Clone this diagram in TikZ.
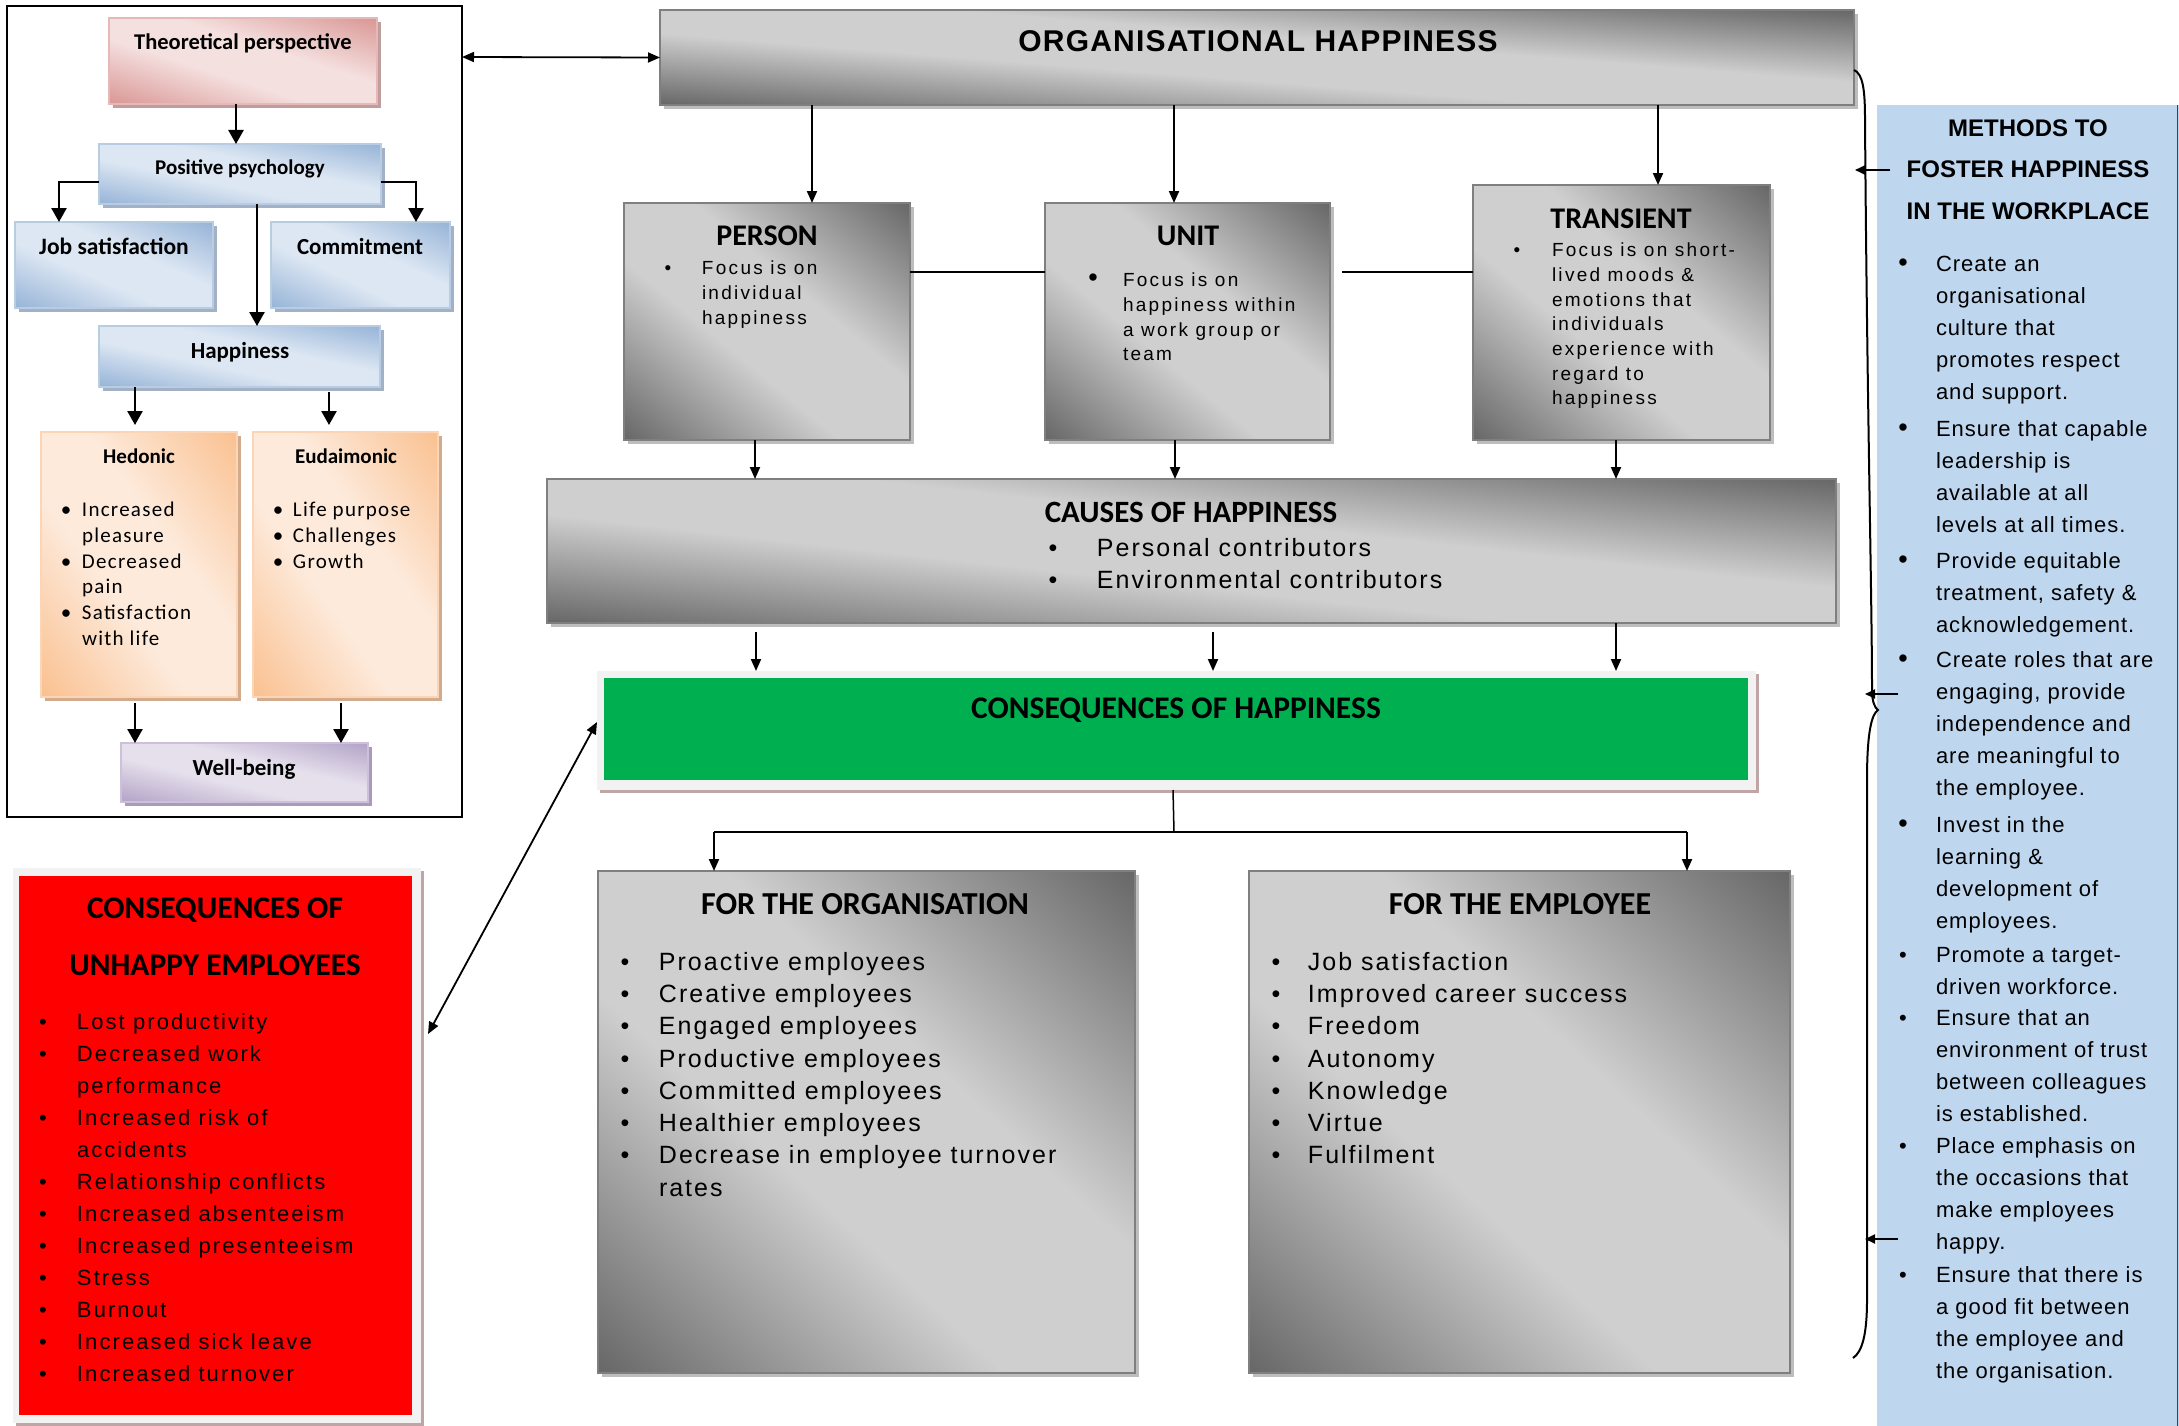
\documentclass[tikz,border=0pt]{standalone}
\usepackage{fontspec}
\setmainfont{Liberation Sans}
\newfontfamily\carl{Carlito}
\newfontfamily\carlsp[LetterSpace=6]{Carlito}
\newfontfamily\arsp[LetterSpace=8]{Liberation Sans}
\newfontfamily\arred[LetterSpace=9.5]{Liberation Sans}
\newfontfamily\arblue[LetterSpace=4.5]{Liberation Sans}
\newfontfamily\arwide[LetterSpace=12]{Liberation Sans}
\newfontfamily\artitle[LetterSpace=4]{Liberation Sans}
\usetikzlibrary{arrows.meta,shadows,calc}

% colours
\definecolor{gD}{HTML}{666666}
\definecolor{gL}{HTML}{CFCFCF}
\definecolor{gB}{HTML}{7F7F7F}
\definecolor{gS}{HTML}{BDBDBD}
\definecolor{pD}{HTML}{D99694}
\definecolor{pL}{HTML}{F4E0DF}
\definecolor{pB}{HTML}{E6B9B8}
\definecolor{pS}{HTML}{BF9D9C}
\definecolor{bD}{HTML}{95B3D7}
\definecolor{bL}{HTML}{DDE7F3}
\definecolor{bB}{HTML}{B8CCE4}
\definecolor{bS}{HTML}{A3B1C6}
\definecolor{oD}{HTML}{FAC08F}
\definecolor{oL}{HTML}{FDEADB}
\definecolor{oB}{HTML}{FBD5B5}
\definecolor{oS}{HTML}{D2AA8C}
\definecolor{vD}{HTML}{B2A2C7}
\definecolor{vL}{HTML}{E6E0EC}
\definecolor{vB}{HTML}{CCC0DA}
\definecolor{vS}{HTML}{A99CBB}
\definecolor{frameF}{HTML}{F2F2F2}
\definecolor{frameS}{HTML}{BFA5A5}
\definecolor{happyGreen}{HTML}{00B050}
\definecolor{panelBlue}{HTML}{BED6EE}

% bands: dark at both ends, light in the middle
\pgfdeclareverticalshading{greyband}{100bp}{color(0bp)=(gD); color(25bp)=(gD); color(44bp)=(gL); color(56bp)=(gL); color(75bp)=(gD); color(100bp)=(gD)}
\pgfdeclareverticalshading{pinkband}{100bp}{color(0bp)=(pD); color(25bp)=(pD); color(44bp)=(pL); color(56bp)=(pL); color(75bp)=(pD); color(100bp)=(pD)}
\pgfdeclareverticalshading{blueband}{100bp}{color(0bp)=(bD); color(25bp)=(bD); color(44bp)=(bL); color(56bp)=(bL); color(75bp)=(bD); color(100bp)=(bD)}
\pgfdeclareverticalshading{orangeband}{100bp}{color(0bp)=(oD); color(25bp)=(oD); color(44bp)=(oL); color(56bp)=(oL); color(75bp)=(oD); color(100bp)=(oD)}
\pgfdeclareverticalshading{violetband}{100bp}{color(0bp)=(vD); color(25bp)=(vD); color(44bp)=(vL); color(56bp)=(vL); color(75bp)=(vD); color(100bp)=(vD)}

% hanging bullet: optional glyph, gap to the text in pt
\newcommand\itm[2][\textbullet]{\llap{\makebox[10pt][c]{#1}\hspace{#2pt}}}
\newcommand\bigbul{{\fontsize{27}{27}\selectfont\textbullet}}

\tikzset{
  box/.style={inner sep=0pt, outer sep=0pt, anchor=north west},
  framebox/.style={box, fill=frameF,
    drop shadow={shadow xshift=3pt, shadow yshift=-3pt, fill=frameS, opacity=1}},
  txt/.style={inner sep=0pt, outer sep=0pt},
  listtxt/.style={txt, anchor=north west, align=left},
  arr/.style={line width=2pt, -{Triangle[length=12pt,width=10pt]}},
  larr/.style={line width=2.5pt, -{Triangle[length=14pt,width=15pt]}},
  dbl/.style={line width=1.8pt, {Triangle[length=12pt,width=10pt]}-{Triangle[length=12pt,width=10pt]}},
  link/.style={line width=2.5pt},
  thin link/.style={line width=1.5pt},
}

% box with a drop shadow, light along the top-left/bottom-right diagonal,
% dark towards the other two corners
% #1 name, #2 x, #3 y, #4 width, #5 height, #6 shading, #7 border, #8 shadow
\newcommand\bandbox[8]{%
  \node[box, fill=white, minimum width=#4pt, minimum height=#5pt,
        drop shadow={shadow xshift=4pt, shadow yshift=-4pt, fill=#8, opacity=1}] (#1) at (#2,#3) {};
  \pgfmathsetmacro\bandA{#4/50}%
  \pgfmathsetmacro\bandB{-#5/50}%
  \pgfmathsetmacro\bandD{#5/50}%
  \begin{scope}
    \clip (#1.south west) rectangle (#1.north east);
    \begin{scope}[transform canvas={shift={(#1.center)}, cm={\bandA,\bandB,\bandA,\bandD,(0,0)}}]
      \shade[shading=#6] (-25bp,-25bp) rectangle (25bp,25bp);
    \end{scope}
  \end{scope}
  \draw[draw=#7, line width=1.5pt] (#1.south west) rectangle (#1.north east);
}

\begin{document}
\begin{tikzpicture}[x=1pt,y=-1pt]
\fill[white] (0,0) rectangle (2179,1426);
\useasboundingbox (0,0) rectangle (2179,1426);

% ---------------- theoretical perspective panel ----------------
\node[box, draw=black, line width=2pt, minimum width=455pt, minimum height=811pt] (frame) at (7,6) {};
\bandbox{theo}{109}{18}{268}{86}{pinkband}{pB}{pS}
\bandbox{pos}{99}{144}{282}{60}{blueband}{bB}{bS}
\bandbox{jobsat}{15}{222}{198}{86}{blueband}{bB}{bS}
\bandbox{commit}{271}{222}{179}{86}{blueband}{bB}{bS}
\bandbox{happy}{99}{326}{281}{61}{blueband}{bB}{bS}
\bandbox{hedonic}{41}{432}{196}{265}{orangeband}{oB}{oS}
\bandbox{eud}{253}{432}{185}{265}{orangeband}{oB}{oS}
\bandbox{wellb}{121}{743}{247}{59}{violetband}{vB}{vS}

\node[txt, anchor=base, font=\carl\bfseries\fontsize{22.5}{26}\selectfont] (theoT) at (243,50) {Theoretical perspective};
\node[txt, anchor=base, font=\carl\bfseries\fontsize{21}{25}\selectfont] (posT) at (240,175) {Positive psychology};
\node[txt, anchor=base, font=\carl\bfseries\fontsize{23.5}{27}\selectfont] (jobsatT) at (114,254.5) {Job satisfaction};
\node[txt, anchor=base, font=\carl\bfseries\fontsize{23}{27}\selectfont] (commitT) at (360,254.5) {Commitment};
\node[txt, anchor=base, font=\carl\bfseries\fontsize{23}{27}\selectfont] (happyT) at (240,358.4) {Happiness};
\node[txt, anchor=base, font=\carl\bfseries\fontsize{21}{25}\selectfont] (hedonicT) at (139,463.8) {Hedonic};
\node[txt, anchor=base, font=\carl\bfseries\fontsize{21}{25}\selectfont] (eudT) at (346,463.8) {Eudaimonic};
\node[txt, anchor=base, font=\carl\bfseries\fontsize{23}{27}\selectfont] (wellbT) at (244,775.4) {Well-being};

\node[listtxt, font=\carlsp\fontsize{21}{25.8}\selectfont] (hedL) at (82,502)
  {\itm{11}Increased\\pleasure\\\itm{11}Decreased\\pain\\\itm{11}Satisfaction\\with life};
\node[listtxt, font=\carlsp\fontsize{21}{25.8}\selectfont] (eudL) at (293,502)
  {\itm{10}Life purpose\\\itm{10}Challenges\\\itm{10}Growth};

\draw[larr] ([xshift=-7pt]theo.south) -- ([xshift=-4pt]pos.north);
\draw[larr] ([yshift=-8pt]pos.west) -| ([xshift=-55pt]jobsat.north);
\draw[larr] ([yshift=-8pt]pos.east) -| ([xshift=55.5pt]commit.north);
\draw[larr] ([xshift=17pt]pos.south) -- ([xshift=17.5pt]happy.north);
\draw[larr, shorten >=7pt] ([xshift=-104.5pt]happy.south) -- ([xshift=-4pt]hedonic.north);
\draw[larr, shorten <=5pt, shorten >=7pt] ([xshift=89.5pt]happy.south) -- ([xshift=-16.5pt]eud.north);
\draw[larr, shorten <=6pt] ([xshift=-4pt]hedonic.south) -- ([xshift=-109.5pt]wellb.north);
\draw[larr, shorten <=6pt] ([xshift=-4.5pt]eud.south) -- ([xshift=96.5pt]wellb.north);

% ---------------- organisational happiness ----------------
\bandbox{org}{660}{10}{1194}{95}{greyband}{gB}{gS}
\bandbox{person}{624}{203}{286}{237}{greyband}{gB}{gS}
\bandbox{unit}{1045}{203}{285}{237}{greyband}{gB}{gS}
\bandbox{trans}{1473}{185}{297}{255}{greyband}{gB}{gS}
\bandbox{causes}{547}{479}{1289}{144}{greyband}{gB}{gS}
\node[framebox, minimum width=1159pt, minimum height=119pt] (conseq) at (597,671) {};
\node[box, fill=happyGreen, minimum width=1144pt, minimum height=102pt] (conseqIn) at (604,678) {};
\bandbox{orgbox}{598}{871}{537}{502}{greyband}{gB}{gS}
\bandbox{empbox}{1249}{871}{541}{502}{greyband}{gB}{gS}

\node[txt, anchor=base, font=\artitle\bfseries\fontsize{30}{34}\selectfont] (orgT) at (1258,52) {ORGANISATIONAL HAPPINESS};
\node[txt, anchor=base, font=\carl\bfseries\fontsize{30}{34}\selectfont] (personT) at (767,245) {PERSON};
\node[txt, anchor=base, font=\carl\bfseries\fontsize{30}{34}\selectfont] (unitT) at (1188,245) {UNIT};
\node[txt, anchor=base, font=\carl\bfseries\fontsize{30}{34}\selectfont] (transT) at (1621,228) {TRANSIENT};
\node[txt, anchor=base, font=\carl\bfseries\fontsize{31}{35}\selectfont] (causesT) at (1191,522) {CAUSES OF HAPPINESS};
\node[txt, anchor=base, font=\carl\bfseries\fontsize{31.5}{35}\selectfont] (conseqT) at (1176,718) {CONSEQUENCES OF HAPPINESS};
\node[txt, anchor=base, font=\carl\bfseries\fontsize{32}{36}\selectfont] (orgboxT) at (865,914) {FOR THE ORGANISATION};
\node[txt, anchor=base, font=\carl\bfseries\fontsize{32}{36}\selectfont] (empboxT) at (1520,914) {FOR THE EMPLOYEE};

\node[listtxt, font=\arwide\fontsize{19}{25}\selectfont] (personL) at (702,261)
  {\itm{29}Focus is on\\individual\\happiness};
\node[listtxt, font=\arwide\fontsize{19}{24.7}\selectfont] (unitL) at (1123,273)
  {\itm[\bigbul]{25}Focus is on\\happiness within\\a work group or\\team};
\node[listtxt, font=\arwide\fontsize{19}{24.7}\selectfont] (transL) at (1552,243)
  {\itm{30}Focus is on short-\\lived moods \&\\emotions that\\individuals\\experience with\\regard to\\happiness};
\node[listtxt, font=\arsp\fontsize{25}{32}\selectfont] (causesL) at (1097,538)
  {\itm{39}Personal contributors\\\itm{39}Environmental contributors};
\node[listtxt, font=\arsp\fontsize{25}{32.3}\selectfont] (orgL) at (659,952)
  {\itm{29}Proactive employees\\\itm{29}Creative employees\\\itm{29}Engaged employees\\\itm{29}Productive employees\\\itm{29}Committed employees\\\itm{29}Healthier employees\\\itm{29}Decrease in employee turnover\\rates};
\node[listtxt, font=\arsp\fontsize{25}{32.3}\selectfont] (empL) at (1308,952)
  {\itm{27}Job satisfaction\\\itm{27}Improved career success\\\itm{27}Freedom\\\itm{27}Autonomy\\\itm{27}Knowledge\\\itm{27}Virtue\\\itm{27}Fulfilment};

\draw[arr] ([xshift=-445pt]org.south) -- ([xshift=45pt]person.north);
\draw[arr] ([xshift=-83pt]org.south) -- ([xshift=-13.5pt]unit.north);
\draw[arr] ([xshift=401pt]org.south) -- ([xshift=36.5pt]trans.north);
\draw[link] ([yshift=49.5pt]person.east) -- ([yshift=49.5pt]unit.west);
\draw[link] ([xshift=12pt,yshift=49.5pt]unit.east) -- ([yshift=40.5pt]trans.west);
\draw[arr] ([xshift=-12pt]person.south) -- ([xshift=-436.5pt]causes.north);
\draw[arr] ([xshift=-12.5pt]unit.south) -- ([xshift=-16.5pt]causes.north);
\draw[arr] ([xshift=-5.5pt]trans.south) -- ([xshift=424.5pt]causes.north);
\draw[arr, shorten <=9pt] ([xshift=-435.5pt]causes.south) -- ([xshift=-420.5pt]conseq.north);
\draw[arr, shorten <=9pt] ([xshift=21.5pt]causes.south) -- ([xshift=36.5pt]conseq.north);
\draw[arr] ([xshift=424.5pt]causes.south) -- ([xshift=439.5pt]conseq.north);
\coordinate (split) at (1174,832);
\draw[thin link] ([xshift=-3.5pt]conseq.south) -- (split);
\draw[link] ([xshift=-152.5pt]orgbox.north |- split) -- ([xshift=167.5pt]empbox.north |- split);
\draw[arr] ([xshift=-152.5pt]orgbox.north |- split) -- ([xshift=-152.5pt]orgbox.north);
\draw[arr] ([xshift=167.5pt]empbox.north |- split) -- ([xshift=167.5pt]empbox.north);

% ---------------- unhappy employees ----------------
\node[framebox, minimum width=408pt, minimum height=555pt] (unhappy) at (13,868) {};
\node[box, fill=red, minimum width=393pt, minimum height=539pt] (unhappyIn) at (19,876) {};
\node[txt, anchor=base, font=\carl\bfseries\fontsize{31.5}{35}\selectfont] (unhappyT1) at (215,918) {CONSEQUENCES OF};
\node[txt, anchor=base, font=\carl\bfseries\fontsize{31.5}{35}\selectfont] (unhappyT2) at (215,975) {UNHAPPY EMPLOYEES};
\node[listtxt, font=\arred\fontsize{22}{32}\selectfont] (unhappyL) at (77,1014)
  {\itm{29}Lost productivity\\\itm{29}Decreased work\\performance\\\itm{29}Increased risk of\\accidents\\\itm{29}Relationship conflicts\\\itm{29}Increased absenteeism\\\itm{29}Increased presenteeism\\\itm{29}Stress\\\itm{29}Burnout\\\itm{29}Increased sick leave\\\itm{29}Increased turnover};

\draw[dbl] ([yshift=-51pt]frame.north east) -- (org.west);
\draw[dbl] ([xshift=7pt,yshift=111.5pt]unhappy.east) -- ([yshift=8.5pt]conseq.west);

% ---------------- methods to foster happiness ----------------
\node[box, fill=panelBlue, minimum width=302pt, minimum height=1321pt] (panel) at (1877,105) {};
\draw[line width=1pt, black!75] ([xshift=-1.5pt]panel.north east) -- ([xshift=-1.5pt]panel.south east);
\node[txt, anchor=base, font=\bfseries\fontsize{24}{28}\selectfont] (panelT1) at (2028,137) {METHODS TO};
\node[txt, anchor=base, font=\bfseries\fontsize{24}{28}\selectfont] (panelT2) at (2028,177) {FOSTER HAPPINESS};
\node[txt, anchor=base, font=\bfseries\fontsize{24}{28}\selectfont] (panelT3) at (2028,219) {IN THE WORKPLACE};
\tikzset{bluelist/.style={listtxt, font=\arblue\fontsize{22}{32}\selectfont}}
\node[bluelist] (m1) at (1936,256) {\itm[\bigbul]{28}Create an\\organisational\\culture that\\promotes respect\\and support.};
\node[bluelist] (m2) at (1936,421) {\itm[\bigbul]{28}Ensure that capable\\leadership is\\available at all\\levels at all times.};
\node[bluelist] (m3) at (1936,553) {\itm[\bigbul]{28}Provide equitable\\treatment, safety \&\\acknowledgement.};
\node[bluelist] (m4) at (1936,652) {\itm[\bigbul]{28}Create roles that are\\engaging, provide\\independence and\\are meaningful to\\the employee.};
\node[bluelist] (m5) at (1936,817) {\itm[\bigbul]{28}Invest in the\\learning \&\\development of\\employees.};
\node[bluelist] (m6) at (1936,947) {\itm{28}Promote a target-\\driven workforce.};
\node[bluelist] (m7) at (1936,1010) {\itm{28}Ensure that an\\environment of trust\\between colleagues\\is established.};
\node[bluelist] (m8) at (1936,1138) {\itm{28}Place emphasis on\\the occasions that\\make employees\\happy.};
\node[bluelist] (m9) at (1936,1267) {\itm{28}Ensure that there is\\a good fit between\\the employee and\\the organisation.};

% brace gathering the methods, with pointers from the panel
\draw[line width=2pt] ([yshift=-12.5pt]org.east)
  .. controls (1863,74) and (1865,90) .. (1865,120)
  .. controls (1867,400) and (1872,600) .. (1872,690)
  .. controls (1872,702) and (1875,708) .. (1878,710)
  .. controls (1872,714) and (1867,730) .. (1867,780)
  -- (1867,1300)
  .. controls (1867,1335) and (1862,1352) .. (1853,1358);
\coordinate (p1s) at (1890,170); \coordinate (p1e) at (1855,170);
\coordinate (p2s) at (1898,694); \coordinate (p2e) at (1865,694);
\coordinate (p3s) at (1898,1239); \coordinate (p3e) at (1865,1239);
\draw[line width=2pt, -{Triangle[length=10pt,width=9pt]}] (p1s) -- (p1e);
\draw[line width=2pt, -{Triangle[length=10pt,width=9pt]}] (p2s) -- (p2e);
\draw[line width=2pt, -{Triangle[length=10pt,width=9pt]}] (p3s) -- (p3e);
\end{tikzpicture}
\end{document}
